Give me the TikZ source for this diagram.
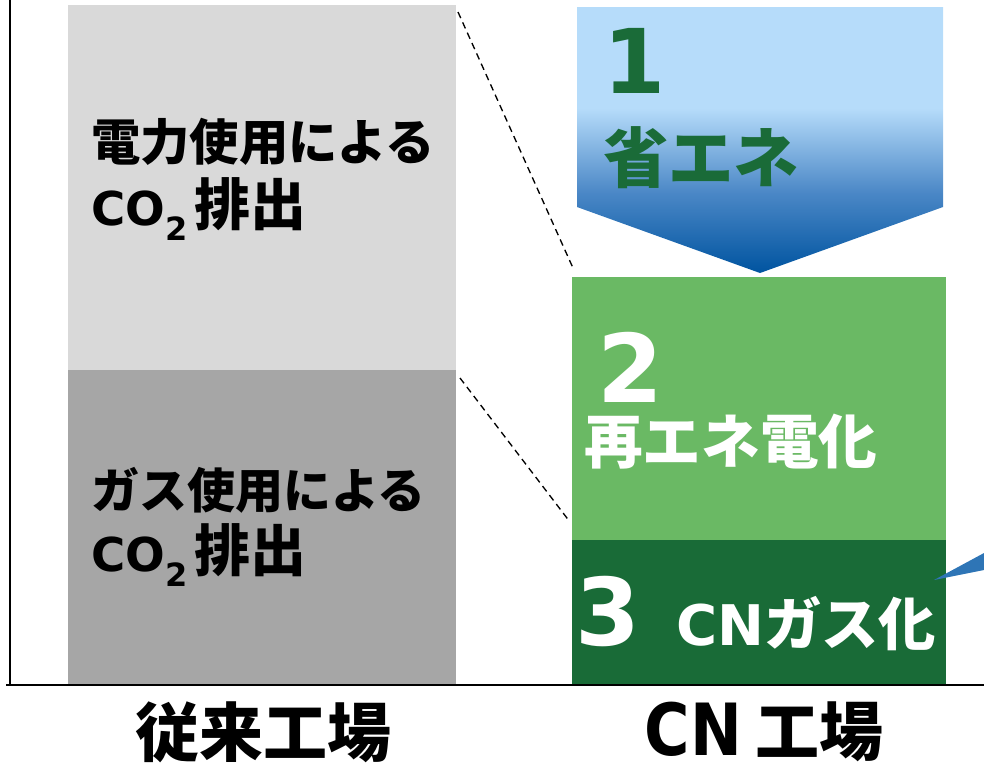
\documentclass[tikz,border=0pt]{standalone}
\usepackage{fontspec}
\newfontfamily\jp{Noto Sans CJK JP}
\newfontfamily\lat{DejaVu Sans}
\definecolor{lgrey}{HTML}{D9D9D9}
\definecolor{dgrey}{HTML}{A6A6A6}
\definecolor{lgreen}{HTML}{6AB964}
\definecolor{dgreen}{HTML}{196B37}
\definecolor{tgreen}{HTML}{1A6B38}
\definecolor{lblue}{HTML}{B6DCFA}
\definecolor{mblue}{HTML}{4A87C6}
\definecolor{dblue}{HTML}{0054A0}
\definecolor{cblue}{HTML}{2E75B6}
\pgfdeclareverticalshading{arrowshade}{100bp}{color(0bp)=(dblue); color(25bp)=(dblue); color(40bp)=(mblue); color(56bp)=(lblue); color(100bp)=(lblue)}
\newcommand{\cotwo}{{\lat\bfseries\fontsize{35}{35}\selectfont CO\raisebox{-0.32em}{\fontsize{24}{24}\selectfont 2}}\hspace{5pt}{\jp\bfseries\fontsize{42}{42}\selectfont 排出}}
\begin{document}
\begin{tikzpicture}[x=0.75pt,y=-0.75pt,
  box/.style={draw=none,inner sep=0pt,outer sep=0pt,anchor=north west},
  dashline/.style={black,line width=1pt,dash pattern=on 5pt off 3.5pt},
  axis/.style={black,line width=1.5pt},
  jpb/.style={font=\jp\bfseries\fontsize{#1}{#1}\selectfont},
  lbl/.style={anchor=west,inner sep=0pt},
  digit/.style={anchor=base west,inner sep=0pt},
  bottomlbl/.style={anchor=base,inner sep=0pt,text depth=0pt},
]
\useasboundingbox (0,0) rectangle (984,765);
% grey boxes
\node[box,fill=lgrey,minimum width=291pt,minimum height=273.75pt] (elec) at (68,5) {};
\node[box,fill=dgrey,minimum width=291pt,minimum height=237pt] (gas) at (68,370) {};
% green boxes
\node[box,fill=lgreen,minimum width=280.5pt,minimum height=197.25pt] (renew) at (572,277) {};
\node[box,fill=dgreen,minimum width=280.5pt,minimum height=108.75pt] (cngas) at (572,540) {};
% blue arrow
\shade[shading=arrowshade] (577,7) -- (943,7) -- (943,207) -- (760,273) -- (577,207) -- cycle;
\coordinate (arrowtip) at (760,273);
% callout triangle
\coordinate (callpt) at (934,580);
\fill[cblue] (callpt) -- (984,553) -- (984,570) -- cycle;
% dashed lines
\coordinate (d1a) at (458,12);
\coordinate (d1b) at (573,268);
\coordinate (d2a) at (460,378);
\coordinate (d2b) at (570,522);
\draw[dashline] (d1a) -- (d1b);
\draw[dashline] (d2a) -- (d2b);
% axes
\coordinate (origin) at (10,685);
\coordinate (ytop) at (10,0);
\coordinate (xend) at (984,685);
\coordinate (xstart) at (6,685);
\draw[axis] (ytop) -- (origin);
\draw[axis] (xstart) -- (xend);
% left texts
\node[lbl,jpb=37pt] (t1a) at (91,142) {電力使用による};
\node[lbl] (t1b) at (91,209) {\cotwo};
\node[lbl,jpb=36pt] (t2a) at (91,490) {ガス使用による};
\node[lbl] (t2b) at (91,555) {\cotwo};
% arrow texts
\node[digit,text=tgreen,font=\lat\bfseries\fontsize{67}{67}\selectfont] (n1) at (603,93) {1};
\node[lbl,text=tgreen,jpb=49pt] (s1) at (603,158) {省エネ};
% green texts
\node[digit,text=white,font=\lat\bfseries\fontsize{71}{71}\selectfont] (n2) at (597,402) {2};
\node[lbl,text=white,jpb=44pt] (s2) at (584,442) {再エネ電化};
\node[digit,text=white,font=\lat\bfseries\fontsize{70}{70}\selectfont] (n3) at (575,645) {3};
\node[lbl,text=white] (s3) at (676,624) {{\lat\bfseries\fontsize{42}{42}\selectfont CN}{\jp\bfseries\fontsize{43}{43}\selectfont ガス化}};
% bottom labels
\node[bottomlbl,jpb=48pt] (lab1) at (263,756) {従来工場};
\node[bottomlbl] (lab2) at (764,755) {\scalebox{0.86}[1]{\lat\bfseries\fontsize{54}{54}\selectfont CN}\hspace{10pt}{\jp\bfseries\fontsize{48}{48}\selectfont 工場}};
\end{tikzpicture}
\end{document}
